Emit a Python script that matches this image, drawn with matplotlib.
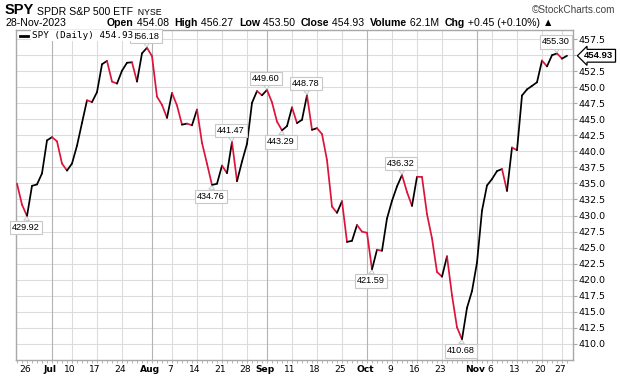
import matplotlib
matplotlib.use("Agg")
import matplotlib.pyplot as plt
from matplotlib.collections import LineCollection
from matplotlib.lines import Line2D
from matplotlib.text import Annotation
from matplotlib.transforms import ScaledTranslation, blended_transform_factory
import numpy as np

# SPY daily closes (dividend adjusted), one entry per trading day
dates = [
    "2023-06-22", "2023-06-23", "2023-06-26", "2023-06-27", "2023-06-28", "2023-06-29", "2023-06-30",
    "2023-07-03", "2023-07-05", "2023-07-06", "2023-07-07", "2023-07-10", "2023-07-11", "2023-07-12",
    "2023-07-13", "2023-07-14", "2023-07-17", "2023-07-18", "2023-07-19", "2023-07-20", "2023-07-21",
    "2023-07-24", "2023-07-25", "2023-07-26", "2023-07-27", "2023-07-28", "2023-07-31",
    "2023-08-01", "2023-08-02", "2023-08-03", "2023-08-04", "2023-08-07", "2023-08-08", "2023-08-09",
    "2023-08-10", "2023-08-11", "2023-08-14", "2023-08-15", "2023-08-16", "2023-08-17", "2023-08-18",
    "2023-08-21", "2023-08-22", "2023-08-23", "2023-08-24", "2023-08-25", "2023-08-28", "2023-08-29",
    "2023-08-30", "2023-08-31",
    "2023-09-01", "2023-09-05", "2023-09-06", "2023-09-07", "2023-09-08", "2023-09-11", "2023-09-12",
    "2023-09-13", "2023-09-14", "2023-09-15", "2023-09-18", "2023-09-19", "2023-09-20", "2023-09-21",
    "2023-09-22", "2023-09-25", "2023-09-26", "2023-09-27", "2023-09-28", "2023-09-29",
    "2023-10-02", "2023-10-03", "2023-10-04", "2023-10-05", "2023-10-06", "2023-10-09", "2023-10-10",
    "2023-10-11", "2023-10-12", "2023-10-13", "2023-10-16", "2023-10-17", "2023-10-18", "2023-10-19",
    "2023-10-20", "2023-10-23", "2023-10-24", "2023-10-25", "2023-10-26", "2023-10-27", "2023-10-30",
    "2023-10-31",
    "2023-11-01", "2023-11-02", "2023-11-03", "2023-11-06", "2023-11-07", "2023-11-08", "2023-11-09",
    "2023-11-10", "2023-11-13", "2023-11-14", "2023-11-15", "2023-11-16", "2023-11-17", "2023-11-20",
    "2023-11-21", "2023-11-22", "2023-11-24", "2023-11-27", "2023-11-28",
]
closes = [
    434.97, 431.69, 429.92, 434.63, 434.85, 436.57, 441.72,
    442.23, 441.57, 438.11, 437.01, 438.11, 440.90, 444.45, 447.98, 447.70, 449.25, 453.60,
    454.13, 450.90, 450.59, 452.60, 453.84, 453.91, 450.90, 455.31, 456.18,
    454.87, 448.55, 447.26, 445.24, 449.12, 447.17, 444.18, 444.34, 444.08, 446.53, 441.33,
    438.09, 434.76, 434.96, 437.79, 436.61, 441.47, 435.35, 438.42, 441.20, 447.58, 449.42, 448.76,
    449.60, 447.66, 444.65, 443.29, 443.95, 446.87, 444.42, 444.94, 448.78, 443.37, 443.63,
    442.71, 438.64, 431.39, 430.42, 432.23, 425.88, 426.05, 428.52, 427.48,
    427.31, 421.59, 424.66, 424.50, 429.54, 432.29, 434.54, 436.32, 433.66, 431.50, 436.04,
    436.02, 430.21, 426.43, 421.19, 420.46, 423.63, 417.55, 412.55, 410.68, 415.59, 418.20,
    422.66, 430.76, 434.69, 435.69, 436.93, 437.25, 433.84, 440.61, 440.19, 448.73, 449.68,
    450.23, 450.79, 454.18, 453.27, 455.02, 455.30, 454.48, 454.93,
]

tick_dates = ["2023-06-26", "2023-07-03", "2023-07-10", "2023-07-17", "2023-07-24", "2023-08-01",
              "2023-08-07", "2023-08-14", "2023-08-21", "2023-08-28", "2023-09-01", "2023-09-11",
              "2023-09-18", "2023-09-25", "2023-10-02", "2023-10-09", "2023-10-16", "2023-10-23",
              "2023-11-01", "2023-11-06", "2023-11-13", "2023-11-20", "2023-11-27"]
tick_labels = ["26", "Jul", "10", "17", "24", "Aug", "7", "14", "21", "28", "Sep", "11", "18", "25",
               "Oct", "9", "16", "23", "Nov", "6", "13", "20", "27"]
month_labels = ["Jul", "Aug", "Sep", "Oct", "Nov"]

# labelled highs / lows
peak_dates = ["2023-07-31", "2023-08-23", "2023-09-01", "2023-09-14", "2023-10-11", "2023-11-24"]
trough_dates = ["2023-06-26", "2023-08-17", "2023-09-07", "2023-10-03", "2023-10-27"]

header_title = [("SPY", "bold", 10.5), (" SPDR S&P 500 ETF", "normal", 7.6), ("  NYSE", "normal", 6.3)]
header_quote = [("Open", "bold"), (" 454.08  ", "normal"), ("High", "bold"), (" 456.27  ", "normal"),
                ("Low", "bold"), (" 453.50  ", "normal"), ("Close", "bold"), (" 454.93  ", "normal"),
                ("Volume", "bold"), (" 62.1M  ", "normal"), ("Chg", "bold"), (" +0.45 (+0.10%) ", "normal"),
                ("▲", "normal")]
last_close = 454.93

RED = "#dc143c"
W, H = 620, 376

fig = plt.figure(figsize=(6.2, 3.76), dpi=100)
fig.patch.set_facecolor("white")
ax = fig.add_axes([16 / W, 1 - 360 / H, (573 - 16) / W, (360 - 30) / H])

x = np.arange(len(closes))
y = np.array(closes)
pts = np.column_stack([x, y])
segs = np.stack([pts[:-1], pts[1:]], axis=1)
cols = np.where(np.diff(y) > 0, "black", RED)
ax.add_collection(LineCollection(segs, colors=cols, linewidths=1.25,
                                 capstyle="round", joinstyle="round", zorder=3))

ax.set_xlim(-0.2, 111.2)
ax.set_ylim(407.45, 458.95)

# grid
yt = np.arange(410, 458, 2.5)
for v in yt:
    ax.axhline(v, color="#dcdcdc", lw=0.8, zorder=0)
idx = {d: i for i, d in enumerate(dates)}
tick_pos = [idx[d] for d in tick_dates]
for p, lab in zip(tick_pos, tick_labels):
    if lab == "26":
        continue
    c = "#b4b4b4" if lab in month_labels else "#dcdcdc"
    ax.axvline(p, color=c, lw=0.8, zorder=0)

for s in ax.spines.values():
    s.set_color("#a8a8a8")
    s.set_linewidth(1)

# y axis on the right
ax.yaxis.tick_right()
ax.set_yticks(yt)
ax.set_yticklabels(["" if abs(v - 455) < 0.01 else f"{v:.1f}" for v in yt])
ax.tick_params(axis="y", length=3, width=0.8, color="#a8a8a8", pad=1, labelsize=6.8)

# x axis
ax.set_xticks(tick_pos)
ax.set_xticklabels(tick_labels)
ax.set_xticks(x, minor=True)
ax.tick_params(axis="x", which="both", length=2, width=0.6, color="#a8a8a8", pad=1.5, labelsize=6.6)
shift = ScaledTranslation(-2 / 100, 0, fig.dpi_scale_trans)
for t in ax.get_xticklabels():
    t.set_transform(t.get_transform() + shift)
    if t.get_text() in month_labels:
        t.set_fontweight("bold")

# high / low labels
box = dict(boxstyle="square,pad=0.25", fc="white", ec="#c8c8c8", lw=0.8)
arrow = dict(arrowstyle="wedge,tail_width=0.6,shrink_factor=0.5", fc="white", ec="#c8c8c8",
             lw=0.7, shrinkA=0, shrinkB=0.5)
for d in peak_dates + trough_dates:
    i = idx[d]
    dy = 11.5 if d in peak_dates else -11.5
    ax.annotate(f"{closes[i]:.2f}", xy=(i, closes[i]), xytext=(-1, dy), textcoords="offset pixels",
                ha="center", va="center", fontsize=6.6, family="Liberation Sans",
                bbox=box, arrowprops=arrow, zorder=5, annotation_clip=False)

# legend
fig.add_artist(Line2D([20 / W, 28 / W], [1 - 35.5 / H] * 2, color="black", lw=2))
fig.text(32 / W, 1 - 35.5 / H, "SPY (Daily) 454.93", fontsize=6.7, family="DejaVu Sans Mono",
         va="center", ha="left", zorder=10,
         bbox=dict(boxstyle="square,pad=0.15", fc="white", ec="none"))

# last price tag
tr = blended_transform_factory(ax.transAxes, ax.transData)
ax.text((599 - 16) / (573 - 16), last_close, f"{last_close:.2f}", transform=tr, ha="center",
        va="center", fontsize=6.8, fontweight="bold", family="Liberation Sans", clip_on=False,
        bbox=dict(boxstyle="larrow,pad=0.2", fc="white", ec="black", lw=0.9))


def chain(items, x0, y0, color="black"):
    prev = None
    for txt, weight, size in items:
        if prev is None:
            prev = fig.text(x0, y0, txt, fontsize=size, fontweight=weight, color=color,
                            family=["Liberation Sans", "DejaVu Sans"], va="baseline")
        else:
            prev = Annotation(txt, xy=(1, 0), xycoords=prev, fontsize=size, fontweight=weight,
                              color=color, family=["Liberation Sans", "DejaVu Sans"], va="bottom")
            fig.add_artist(prev)
    return prev


chain(header_title, 5 / W, 1 - 14 / H)
fig.text(615 / W, 1 - 13 / H, "©StockCharts.com", ha="right", va="baseline", fontsize=7.2,
         color="#444444", family="Liberation Sans")
fig.text(5 / W, 1 - 26.5 / H, "28-Nov-2023", ha="left", va="baseline", fontsize=7.6,
         family="Liberation Sans")
chain([(t, w, 7.6) for t, w in header_quote], 107 / W, 1 - 26.5 / H)

fig.savefig("out.png", dpi=100, facecolor="white")
